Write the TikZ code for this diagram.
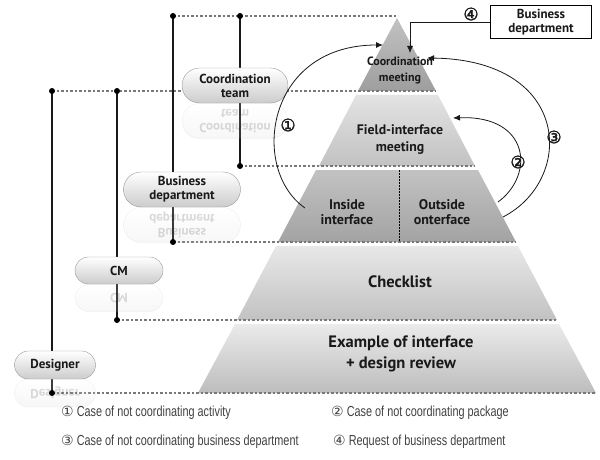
\documentclass[tikz,border=0pt]{standalone}
\usepackage{fontspec}
\setmainfont{PT Sans}
\newfontfamily\legendfont[FakeStretch=0.75]{Liberation Sans}
\newfontfamily\numfont{DejaVu Sans}
\newfontfamily\numboldfont[FakeBold=1.8]{DejaVu Sans}
\usepackage{tikz}
\usetikzlibrary{arrows.meta, positioning, shapes.misc, shadows}
\definecolor{inkgray}{RGB}{25,25,25}
\definecolor{dotgray}{RGB}{120,120,120}

\tikzset{
	pill/.style={rounded rectangle, draw=black!40, top color=white, bottom color=black!20,
		align=center, inner sep=0pt, text=inkgray, font=\bfseries\fontsize{13}{14}\selectfont},
	mirror/.style={pill, yscale=-1, transform shape, opacity=0.16},
	dotline/.style={draw=dotgray, line width=1.2pt, dash pattern=on 2.5pt off 2pt},
	stem/.style={draw=inkgray, line width=1.3pt},
	blob/.style={circle, fill=black, inner sep=0pt, minimum size=6pt},
	tiertext/.style={align=center, text=inkgray, font=\bfseries},
	flow/.style={draw=inkgray, line width=0.8pt, -{Latex[length=7pt,width=6pt]}},
	num/.style={font=\numboldfont\fontsize{17}{17}\selectfont, text=inkgray},
	legend/.style={anchor=west, inner sep=0pt, font=\legendfont\fontsize{14.5}{14.5}\selectfont, text=black!75}
}

\begin{document}
\begin{tikzpicture}[x=1pt, y=-1pt]
	\useasboundingbox (0,0) rectangle (600,460);

	% pyramid tiers
	\shade[top color=black!24, bottom color=black!38] (397,18) -- (436,91) -- (358,91) -- cycle;
	\shade[top color=black!11, bottom color=black!24] (356,95) -- (438,95) -- (475,166) -- (319,166) -- cycle;
	\shade[top color=black!24, bottom color=black!36] (316,170) -- (478,170) -- (516,242) -- (278,242) -- cycle;
	\shade[top color=black!9, bottom color=black!24] (276,246) -- (518,246) -- (557,320) -- (237,320) -- cycle;
	\shade[top color=black!8, bottom color=black!26] (235,324) -- (559,324) -- (596,393) -- (198,393) -- cycle;
	\draw[draw=black, line width=1pt, dash pattern=on 1.5pt off 1.5pt] (399,170) -- (399,242);

	% end points of the stems
	\coordinate (bdTop) at (173,16);
	\coordinate (ctTop) at (240,16);
	\coordinate (apex) at (398,16);
	\coordinate (dsTop) at (52,91);
	\coordinate (cmTop) at (117,91);
	\coordinate (r91) at (436,91);
	\coordinate (ctBot) at (240,166);
	\coordinate (r166) at (475,166);
	\coordinate (bdBot) at (173,242);
	\coordinate (r242) at (516,242);
	\coordinate (cmBot) at (117,320);
	\coordinate (r320) at (557,320);
	\coordinate (dsBot) at (52,393);
	\coordinate (r393) at (596,393);

	\draw[dotline] (bdTop) -- (apex);
	\draw[dotline] (dsTop) -- (r91);
	\draw[dotline] (ctBot) -- (r166);
	\draw[dotline] (bdBot) -- (r242);
	\draw[dotline] (cmBot) -- (r320);
	\draw[dotline] (dsBot) -- (r393);

	\draw[stem] (bdTop) -- (bdBot);
	\draw[stem] (ctTop) -- (ctBot);
	\draw[stem] (cmTop) -- (cmBot);
	\draw[stem] (dsTop) -- (dsBot);

	% reflections
	\node[mirror, minimum width=106pt, minimum height=35pt] at (235,121) {Coordination\\team};
	\node[mirror, minimum width=117pt, minimum height=35pt] at (182,225) {Business\\department};
	\node[mirror, minimum width=88pt, minimum height=27pt] at (119,298) {CM};
	\node[mirror, minimum width=81pt, minimum height=28pt] at (55,393) {Designer};

	% actors
	\node[pill, minimum width=106pt, minimum height=35pt] (team) at (235,85.5) {Coordination\\team};
	\node[pill, minimum width=117pt, minimum height=35pt] (dept) at (182,189.5) {Business\\department};
	\node[pill, minimum width=88pt, minimum height=27pt] (cm) at (119,270.5) {CM};
	\node[pill, minimum width=81pt, minimum height=28pt] (designer) at (55,365) {Designer};

	\foreach \p in {bdTop, ctTop, dsTop, cmTop, ctBot, bdBot, cmBot, dsBot}
		\node[blob] at (\p) {};

	% tier labels
	\node[tiertext, font=\bfseries\fontsize{12}{16}\selectfont] (meet) at (400,70) {Coordination\\meeting};
	\node[tiertext, font=\bfseries\fontsize{13.8}{17}\selectfont] (field) at (400,139.5) {Field-interface\\meeting};
	\node[tiertext, font=\bfseries\fontsize{14}{15}\selectfont] (inside) at (347,212) {Inside\\interface};
	\node[tiertext, font=\bfseries\fontsize{14}{15}\selectfont] (outside) at (442,212) {Outside\\onterface};
	\node[tiertext, font=\bfseries\fontsize{16.5}{18}\selectfont] (check) at (400,282) {Checklist};
	\node[tiertext, font=\bfseries\fontsize{16.5}{21}\selectfont] (example) at (401,354) {Example of interface\\+ design review};

	% request box
	\node[draw=black, line width=1.8pt, minimum width=101pt, minimum height=33pt, inner sep=0pt,
		tiertext, font=\bfseries\fontsize{13}{14}\selectfont] (request) at (541,22) {Business\\department};
	\coordinate (t4) at (410,53);
	\draw[flow] (request.west) -| (t4);

	% feedback loops
	\coordinate (s1) at (305,208);
	\coordinate (t1) at (383,45);
	\coordinate (s2) at (498,202);
	\coordinate (t2) at (453,118);
	\coordinate (s3) at (503,217);
	\coordinate (t3) at (427,58);
	\draw[flow] (s1) .. controls (250,170) and (265,45) .. (t1);
	\draw[flow] (s2) .. controls (535,175) and (530,115) .. (t2);
	\draw[flow] (s3) .. controls (575,180) and (572,60) .. (t3);

	\node[num] (n1) at (288,125) {①};
	\node[num] (n2) at (518,162) {②};
	\node[num] (n3) at (554,137) {③};
	\node[num] (n4) at (471,14) {④};

	% legend
	\node[legend] (leg1) at (61,413) {{\numfont\fontsize{14}{14}\selectfont ①} Case of not coordinating activity};
	\node[legend] (leg2) at (331,413) {{\numfont\fontsize{14}{14}\selectfont ②} Case of not coordinating package};
	\node[legend] (leg3) at (61,442) {{\numfont\fontsize{14}{14}\selectfont ③} Case of not coordinating business department};
	\node[legend] (leg4) at (333,442) {{\numfont\fontsize{14}{14}\selectfont ④} Request of business department};
\end{tikzpicture}
\end{document}
